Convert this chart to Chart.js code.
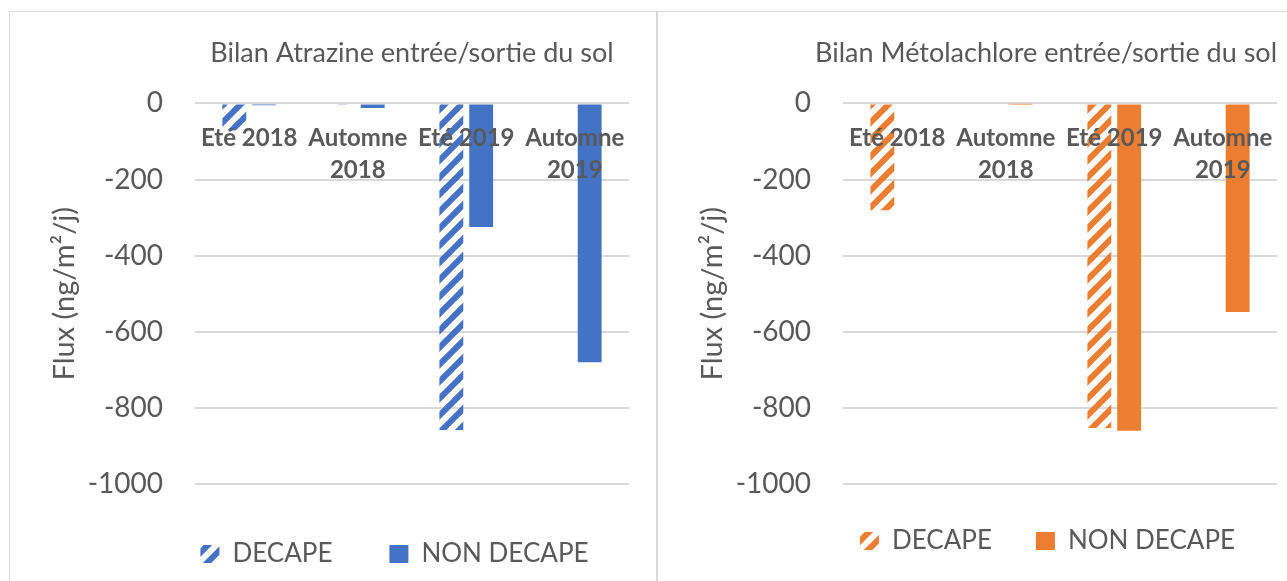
<!DOCTYPE html>
<html>
<head>
<meta charset="utf-8">
<title>Bilan entrée/sortie du sol</title>
<script src="https://cdn.jsdelivr.net/npm/chart.js@4.4.1/dist/chart.umd.min.js"></script>
<style>
  html, body { margin: 0; background: #fff; overflow: hidden; }
  .box { position: absolute; top: 11px; width: 646px; height: 622px; border: 1px solid #d9d9d9; }
  #boxA { left: 9px; }
  #boxM { left: 657px; }
</style>
</head>
<body>
<div class="box" id="boxA"><canvas id="atrazine" width="646" height="622"></canvas></div>
<div class="box" id="boxM"><canvas id="metolachlore" width="646" height="622"></canvas></div>
<script>
// flux in ng/m²/j, one value per season
const seasons = ['Eté 2018', 'Automne 2018', 'Eté 2019', 'Automne 2019'];
const atrazineDecape = [-71, -2, -858, 0];
const atrazineNonDecape = [-5, -12, -325, -680];
const metolachloreDecape = [-281, -3, -853, 0];
const metolachloreNonDecape = [0, -1, -860, -548];
const fluxTicks = [0, -200, -400, -600, -800, -1000];

const GREY = '#595959';
const GRID = '#d9d9d9';
const FONT = 'Lato';

// wide upward diagonal hatch used for the DECAPE series
function hatch(color) {
  const size = 17;
  const c = document.createElement('canvas');
  c.width = c.height = size;
  const g = c.getContext('2d');
  g.strokeStyle = color;
  g.lineWidth = 6;
  g.beginPath();
  for (let k = -1; k <= 1; k++) {
    g.moveTo(k * size - 2, size + 2);
    g.lineTo(k * size + size + 2, -2);
  }
  g.stroke();
  return g.createPattern(c, 'repeat');
}

// long season names go on two lines
function wrapLabel(label) {
  return label.length > 9 ? label.split(' ') : label;
}

// slide the legend sideways once the layout is done
const legendShift = {
  id: 'legendShift',
  afterLayout(chart, args, opts) {
    const lg = chart.legend;
    if (!lg || !opts.dx) return;
    lg.left += opts.dx;
    lg.right += opts.dx;
  }
};

function makeChart(id, title, color, decape, nonDecape, opts) {
  return new Chart(document.getElementById(id), {
    type: 'bar',
    data: {
      labels: seasons,
      datasets: [
        { label: 'DECAPE', data: decape, backgroundColor: hatch(color), borderWidth: 0 },
        { label: 'NON DECAPE', data: nonDecape, backgroundColor: color, borderWidth: 0 }
      ]
    },
    plugins: [legendShift],
    options: {
      responsive: false,
      animation: false,
      events: [],
      layout: { padding: { left: 0, right: 27, top: 0, bottom: opts.bottom } },
      datasets: { bar: { categoryPercentage: 0.55, barPercentage: 0.8 } },
      scales: {
        x: {
          position: { y: 0 },
          grid: { display: false, drawTicks: false },
          border: { display: false },
          ticks: {
            z: 1,
            autoSkip: false,
            maxRotation: 0,
            minRotation: 0,
            padding: 19,
            color: GREY,
            font: { family: FONT, size: 24, weight: 'bold', lineHeight: 1.33 },
            callback: function (v) { return wrapLabel(this.getLabelForValue(v)); }
          }
        },
        y: {
          min: Math.min(...fluxTicks),
          max: Math.max(...fluxTicks),
          afterBuildTicks: s => { s.ticks = fluxTicks.map(v => ({ value: v })); },
          afterFit: s => { s.width = 185; },
          grid: { color: GRID, lineWidth: 2, drawTicks: false },
          border: { display: false },
          ticks: {
            padding: 32,
            color: GREY,
            font: { family: FONT, size: 28 },
            callback: v => String(v)
          },
          title: {
            display: true,
            text: 'Flux (ng/m²/j)',
            color: GREY,
            font: { family: FONT, size: 29 },
            padding: { top: 37, bottom: 0 }
          }
        }
      },
      plugins: {
        title: {
          display: true,
          text: title,
          fullSize: opts.titleFull,
          align: opts.titleAlign,
          color: GREY,
          font: { family: FONT, size: 27, weight: 'normal' },
          padding: { top: 25, bottom: 34 }
        },
        legend: {
          position: 'bottom',
          labels: {
            color: GREY,
            font: { family: FONT, size: 26 },
            boxWidth: 19,
            boxHeight: 18,
            padding: opts.legendPadding
          }
        },
        legendShift: { dx: opts.legendDx },
        tooltip: { enabled: false }
      }
    }
  });
}

makeChart('atrazine', 'Bilan Atrazine entrée/sortie du sol', '#4472c4',
  atrazineDecape, atrazineNonDecape,
  { titleAlign: 'center', titleFull: false, legendPadding: 57, legendDx: 75, bottom: 57 });

makeChart('metolachlore', 'Bilan Métolachlore entrée/sortie du sol', '#ed7d31',
  metolachloreDecape, metolachloreNonDecape,
  { titleAlign: 'end', titleFull: true, legendPadding: 44, legendDx: 80, bottom: 70 });
</script>
</body>
</html>
